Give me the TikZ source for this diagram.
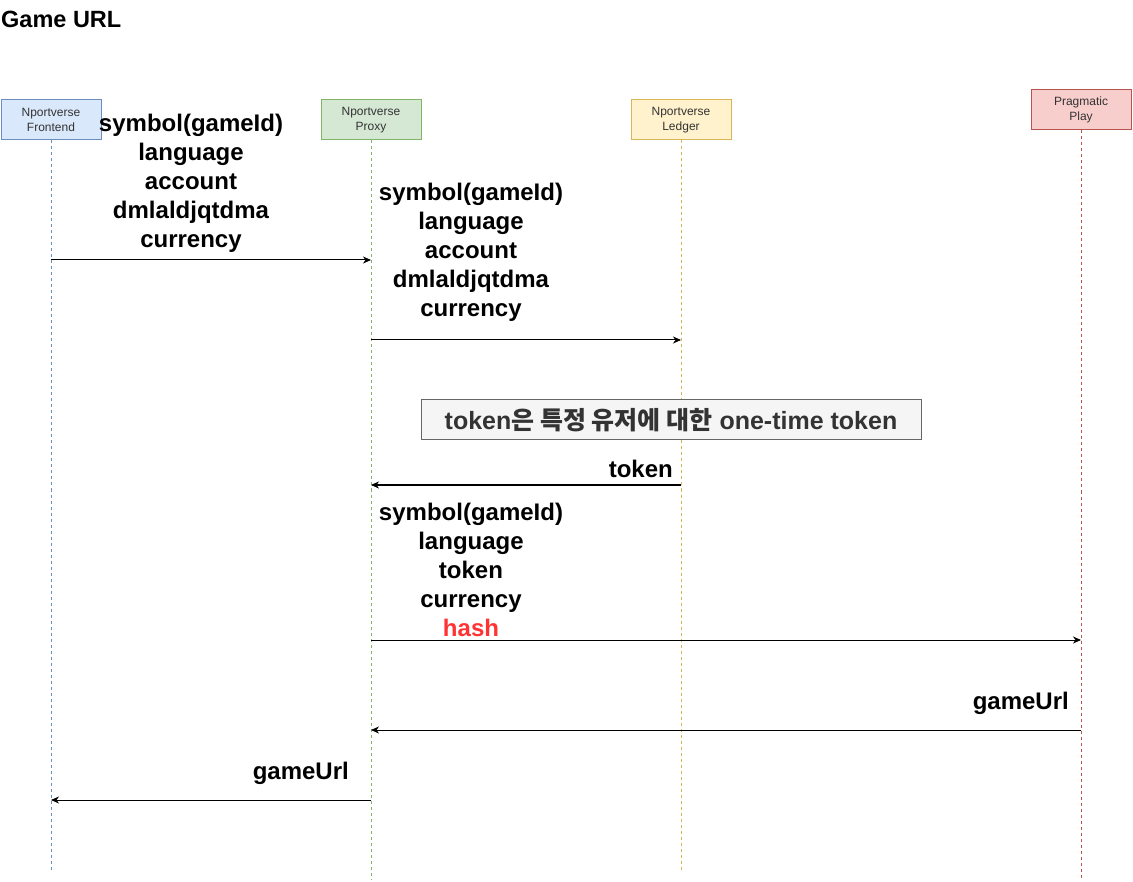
\documentclass[tikz,border=0pt]{standalone}
\usepackage{fontspec}
\setmainfont{Liberation Sans}
\newfontfamily\kr{Noto Sans CJK KR}
\usetikzlibrary{arrows.meta}
\definecolor{feFill}{HTML}{DAE8FC}\definecolor{feLine}{HTML}{6C8EBF}
\definecolor{pxFill}{HTML}{D5E8D4}\definecolor{pxLine}{HTML}{82B366}
\definecolor{lgFill}{HTML}{FFF2CC}\definecolor{lgLine}{HTML}{D6B656}
\definecolor{ppFill}{HTML}{F8CECC}\definecolor{ppLine}{HTML}{B85450}
\definecolor{noteFill}{HTML}{F5F5F5}\definecolor{noteLine}{HTML}{666666}
\definecolor{darkText}{HTML}{333333}
\definecolor{hashRed}{HTML}{FF3333}
\tikzset{
  actor/.style={draw, line width=1pt, minimum width=100pt, minimum height=40pt, inner sep=0pt,
    align=center, text=darkText, font=\fontsize{12}{14.5}\selectfont},
  life/.style={line width=0.8pt, dash pattern=on 3pt off 3pt},
  msg/.style={line width=1pt, -{Stealth[length=8pt,width=7pt,inset=2.5pt]}},
  lbl/.style={inner sep=0pt, align=center, font=\bfseries\fontsize{24}{29}\selectfont},
}
\begin{document}
\begin{tikzpicture}[x=1pt,y=-1pt]
\useasboundingbox (0,0) rectangle (1133,882);
% title
\node[anchor=base west, inner sep=0pt, font=\bfseries\fontsize{23.5}{28}\selectfont] (title) at (1,28) {Game URL};
% actors
\node[actor, fill=feFill, draw=feLine] (fe) at (51,120) {Nportverse\\Frontend};
\node[actor, fill=pxFill, draw=pxLine] (px) at (371,120) {Nportverse\\Proxy};
\node[actor, fill=lgFill, draw=lgLine] (lg) at (681,120) {Nportverse\\Ledger};
\node[actor, fill=ppFill, draw=ppLine] (pp) at (1081,110) {Pragmatic\\Play};
% lifeline ends
\coordinate (feEnd) at (51,870);
\coordinate (pxEnd) at (371,880);
\coordinate (lgEnd) at (681,870);
\coordinate (ppEnd) at (1081,878);
\draw[life, draw=feLine] (fe.south) -- (feEnd);
\draw[life, draw=pxLine] (px.south) -- (pxEnd);
\draw[life, draw=lgLine] (lg.south) -- (lgEnd);
\draw[life, draw=ppLine] (pp.south) -- (ppEnd);
% message points
\coordinate (m1a) at (51,260);  \coordinate (m1b) at (371,260);
\coordinate (m2a) at (371,340); \coordinate (m2b) at (681,340);
\coordinate (m3a) at (681,485); \coordinate (m3b) at (371,485);
\coordinate (m4a) at (371,640); \coordinate (m4b) at (1081,640);
\coordinate (m5a) at (1081,730);\coordinate (m5b) at (371,730);
\coordinate (m6a) at (371,800); \coordinate (m6b) at (51,800);
% messages
\draw[msg] (m1a) -- (m1b);
\draw[msg] (m2a) -- (m2b);
\draw[msg] (m3a) -- (m3b);
\draw[msg] (m4a) -- (m4b);
\draw[msg] (m5a) -- (m5b);
\draw[msg] (m6a) -- (m6b);
% labels
\node[lbl, anchor=south] (l1) at (191,253) {symbol(gameId)\\language\\account\\dmlaldjqtdma\\currency};
\node[lbl, anchor=south] (l2) at (471,322) {symbol(gameId)\\language\\account\\dmlaldjqtdma\\currency};
\node[lbl, anchor=base east] (l3) at (673,478) {token};
\node[lbl, anchor=south] (l4) at (471,637) {symbol(gameId)\\language\\token\\currency\\\textcolor{hashRed}{hash}};
\node[lbl, anchor=base east] (l5) at (1069,709) {gameUrl};
\node[lbl, anchor=base east] (l6) at (349,779) {gameUrl};
% note
\node[draw=noteLine, fill=noteFill, line width=1pt, minimum width=500pt, minimum height=40pt, inner sep=0pt,
  text=darkText, font=\bfseries\fontsize{25}{29}\selectfont] (note) at (671,420)
  {token{\kr 은 특정 유저에 대한} one-time token};
\end{tikzpicture}
\end{document}
